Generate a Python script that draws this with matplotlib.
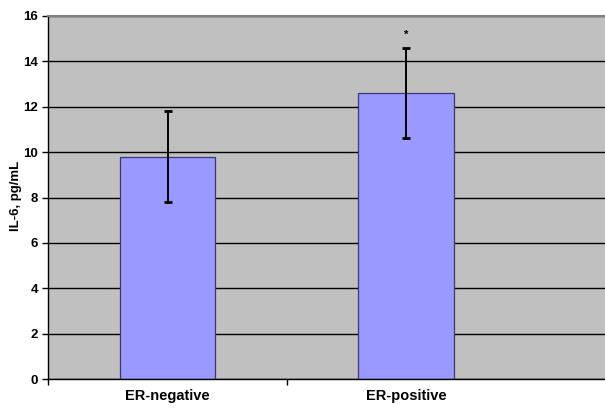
import numpy as np
import matplotlib
matplotlib.use("Agg")
import matplotlib.pyplot as plt

# IL-6 by ER status
groups = ["ER-negative", "ER-positive"]
means = [9.8, 12.6]
errs = [2.0, 2.0]
marks = ["", "*"]

plt.rcParams['font.family'] = ['Liberation Sans', 'DejaVu Sans']

fig = plt.figure(figsize=(6.05, 4.08), dpi=100)
ax = fig.add_axes([0.0798, 0.0703, 0.9202, 0.891])
ax.set_facecolor('#C0C0C0')

x = np.arange(len(groups))
ax.set_axisbelow(True)
ax.yaxis.grid(True, color='black', linewidth=1.0)
ax.bar(x, means, width=0.4, color='#9999FF', edgecolor='#3A3A70', linewidth=0.9, zorder=2)
ax.errorbar(x, means, yerr=errs, fmt='none', ecolor='black', elinewidth=1.4,
            capsize=3, capthick=2, zorder=3)
for xi, m, e, s in zip(x, means, errs, marks):
    if s:
        ax.text(xi, m + e + 0.35, s, ha='center', va='bottom', fontsize=8, fontweight='bold')

ax.set_xlim(-0.5, 1.834)
ax.set_ylim(0, 16)
ax.set_yticks(np.arange(0, 17, 2))
ax.set_xticks(x)
ax.set_xticklabels(groups, fontsize=10.5, fontweight='bold')
ax.set_xticks([-0.5, 0.5], minor=True)
ax.tick_params(axis='x', which='major', length=0, pad=7)
ax.tick_params(axis='x', which='minor', length=4, width=1)
ax.tick_params(axis='y', length=4, width=1, labelsize=9.5)
for lab in ax.get_yticklabels():
    lab.set_fontweight('bold')
ax.set_ylabel("IL-6, pg/mL", fontsize=9.5, fontweight='bold')
ax.yaxis.set_label_coords(-0.047, 0.504)

ax.spines['right'].set_visible(False)
ax.spines['top'].set_color('#808080')
ax.spines['top'].set_linewidth(1.5)
ax.spines['left'].set_linewidth(1.0)
ax.spines['bottom'].set_linewidth(1.0)

fig.savefig("out.png", dpi=100)
